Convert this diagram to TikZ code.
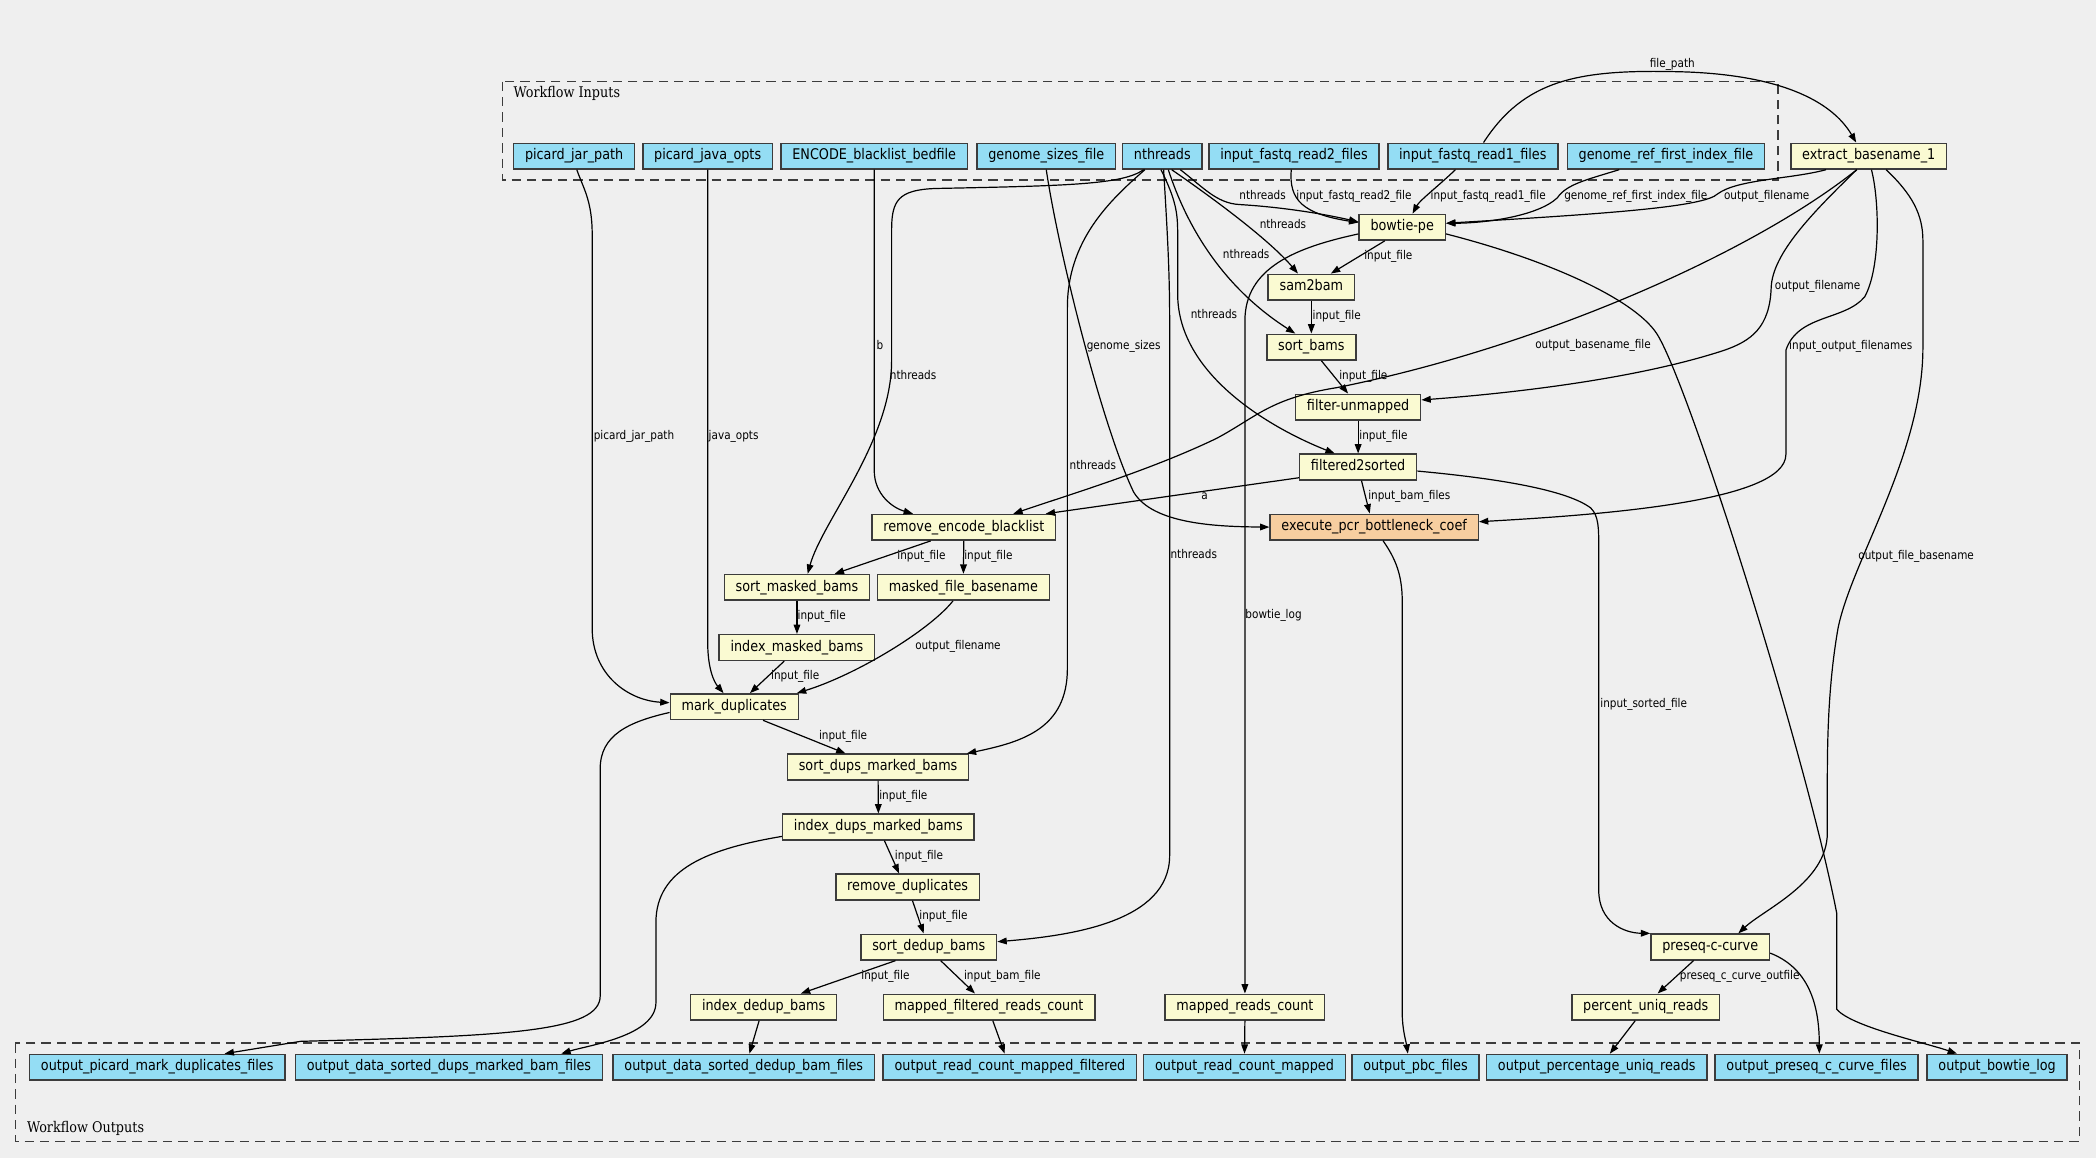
\documentclass[tikz,border=0pt]{standalone}
\usepackage{fontspec}
\setmainfont{DejaVu Sans}[FakeStretch=0.87]
\newfontfamily\clusterfont{DejaVu Serif}[FakeStretch=0.87]
\usetikzlibrary{arrows.meta}
\definecolor{bgcol}{RGB}{239,239,239}
\definecolor{iocol}{RGB}{148,221,244}
\definecolor{stepcol}{RGB}{250,250,210}
\definecolor{subcol}{RGB}{247,206,160}
\definecolor{bordercol}{RGB}{60,60,60}

\begin{document}
\begin{tikzpicture}[x=1pt, y=-1pt] %Workflow
	\tikzstyle{wfbox} = [rectangle, draw=bordercol, line width=1.1pt, minimum height=19.2pt, inner xsep=8.5pt, inner ysep=0pt, text height=8pt, text depth=2.5pt, font=\fontsize{11}{13}\selectfont]
	\tikzstyle{iobox} = [wfbox, fill=iocol]
	\tikzstyle{stepbox} = [wfbox, fill=stepcol]
	\tikzstyle{subbox} = [wfbox, fill=subcol]
	\tikzstyle{conn} = [line width=0.9pt, -{Triangle[length=7pt,width=5pt]}]
	\tikzstyle{elabel} = [anchor=west, inner sep=0pt, text height=7pt, text depth=2pt, font=\fontsize{9}{11}\selectfont]
	\tikzstyle{clusterbox} = [draw=bordercol, line width=1.2pt, dash pattern=on 7pt off 4.5pt]
	\tikzstyle{clustertitle} = [anchor=west, inner sep=0pt, font=\clusterfont\fontsize{11}{13}\selectfont]

	\fill[bgcol] (0,0) rectangle (1568,866);
	\useasboundingbox (0,0) rectangle (1568,866);

	% clusters
	\draw[clusterbox] (375.8,61.1) rectangle (1330.3,134.6);
	\node[clustertitle] (intitle) at (384,70) {Workflow Inputs};
	\draw[clusterbox] (11.5,780.4) rectangle (1555.5,853.9);
	\node[clustertitle] (outtitle) at (20,843.9) {Workflow Outputs};

	% inputs
	\foreach \name/\x/\txt in {pjp/429.5/picard\_jar\_path, pjo/529.4/picard\_java\_opts, encode/654/ENCODE\_blacklist\_bedfile, gsizes/782.7/genome\_sizes\_file, nthreads/869.5/nthreads, read2/968/input\_fastq\_read2\_files, read1/1101.8/input\_fastq\_read1\_files, gref/1246.3/genome\_ref\_first\_index\_file}
	{
		\node[iobox] (\name) at (\x,116.8) {\txt};
	}

	% steps
	\foreach \name/\x/\y/\txt in {extract/1398/116.8/extract\_basename\_1, bowtie/1049/170/bowtie-pe, sam2bam/981/214.8/sam2bam, sortbams/981/259.7/sort\_bams, filterun/1016/304.6/filter-unmapped, f2s/1016/349.4/filtered2sorted, reb/721/394.5/remove\_encode\_blacklist, smb/596.2/439.4/sort\_masked\_bams, mfb/720.7/439.4/masked\_file\_basename, imb/596.2/484.4/index\_masked\_bams, markdup/549.3/528.7/mark\_duplicates, sdmb/656.9/573.8/sort\_dups\_marked\_bams, idmb/657.1/618.7/index\_dups\_marked\_bams, rmdup/679/663.6/remove\_duplicates, sdb/694.8/708.5/sort\_dedup\_bams, idb/571.3/753.4/index\_dedup\_bams, mfrc/739.9/753.4/mapped\_filtered\_reads\_count, mrc/931.3/753.4/mapped\_reads\_count, preseq/1279.4/708.4/preseq-c-curve, pur/1231.2/753.4/percent\_uniq\_reads}
	{
		\node[stepbox] (\name) at (\x,\y) {\txt};
	}
	\node[subbox] (pcr) at (1028,394.3) {execute\_pcr\_bottleneck\_coef};

	% outputs
	\foreach \name/\x/\txt in {opmd/117.6/output\_picard\_mark\_duplicates\_files, odsdmb/335.9/output\_data\_sorted\_dups\_marked\_bam\_files, odsdb/556.4/output\_data\_sorted\_dedup\_bam\_files, orcmf/755.5/output\_read\_count\_mapped\_filtered, orcm/931/output\_read\_count\_mapped, opbc/1058.9/output\_pbc\_files, opur/1194.5/output\_percentage\_uniq\_reads, opcc/1359/output\_preseq\_c\_curve\_files, obl/1494/output\_bowtie\_log}
	{
		\node[iobox] (\name) at (\x,798.4) {\txt};
	}

	% connectors from the inputs
	\draw[conn] ([xshift=2pt]pjp.south) .. controls (436,140) and (443,150) .. (443,175) -- (443,470) .. controls (443,505) and (470,524) .. ([yshift=3pt]markdup.west);
	\draw[conn] (pjo.south) -- (529.4,480) .. controls (529.4,500) and (534,510) .. ([xshift=-8pt]markdup.north);
	\draw[conn] (encode.south) -- (654,352) .. controls (654,370) and (668,380) .. ([xshift=-38pt]reb.north);
	\draw[conn] (gsizes.south) .. controls (792,190) and (825,320) .. (848,368) .. controls (862,392) and (910,394) .. (pcr.west);
	\draw[conn] ([xshift=-14pt]nthreads.south) .. controls (840,138) and (800,139) .. (700,141) .. controls (672,142) and (667,150) .. (667,172) -- (667,270) .. controls (667,330) and (615,390) .. ([xshift=8pt]smb.north);
	\draw[conn] ([xshift=-13pt]nthreads.south) .. controls (830,150) and (798.5,180) .. (798.5,230) -- (798.5,500) .. controls (798.5,545) and (765,555) .. ([xshift=-2pt]sdmb.north east);
	\draw[conn] ([xshift=1pt]nthreads.south) .. controls (873,170) and (875,200) .. (875,240) -- (875,640) .. controls (875,690) and (800,700) .. ([yshift=4pt]sdb.east);
	\draw[conn] ([xshift=13.5pt]nthreads.south) .. controls (900,140) and (910,152) .. (927,153) .. controls (960,155) and (990,160) .. ([yshift=4pt]bowtie.west);
	\draw[conn] ([xshift=7pt]nthreads.south) .. controls (910,150) and (950,180) .. ([xshift=-10pt]sam2bam.north);
	\draw[conn] ([xshift=4.5pt]nthreads.south) .. controls (888,170) and (915,215) .. ([xshift=-12pt]sortbams.north);
	\draw[conn] ([xshift=-1pt]nthreads.south) .. controls (880,150) and (881,160) .. (881,175) -- (881,220) .. controls (881,280) and (950,320) .. ([xshift=-17.5pt]f2s.north);
	\draw[conn] ([xshift=-2pt]read2.south) .. controls (964,150) and (975,160) .. ([yshift=3.5pt]bowtie.west);
	\draw[conn] ([xshift=-13pt]read1.south) .. controls (1075,140) and (1062,150) .. ([xshift=7.7pt]bowtie.north);
	\draw[conn] ([xshift=8pt]read1.north) .. controls (1140,60) and (1180,52) .. (1253,53.6) .. controls (1330,55) and (1370,75) .. ([xshift=-9.4pt]extract.north);
	\draw[conn] ([xshift=-35pt]gref.south) .. controls (1185,135) and (1172,138) .. (1165,148) .. controls (1150,162) and (1110,167) .. ([yshift=3pt]bowtie.east);

	% connectors from extract_basename_1
	\draw[conn] ([xshift=-32pt]extract.south) .. controls (1340,134) and (1300,134) .. (1285,145) .. controls (1275,155) and (1200,160) .. ([yshift=3pt]bowtie.east);
	\draw[conn] ([xshift=-9pt]extract.south) .. controls (1310,190) and (1150,260) .. (1000,290) .. controls (950,298) and (940,312) .. (910,328) .. controls (860,352) and (800,370) .. ([xshift=37pt]reb.north);
	\draw[conn] ([xshift=-9pt]extract.south) .. controls (1355,160) and (1326,190) .. (1325,215) .. controls (1324,245) and (1310,255) .. (1290,262) .. controls (1220,285) and (1120,295) .. ([yshift=5.4pt]filterun.east);
	\draw[conn] ([xshift=2pt]extract.south) .. controls (1406,150) and (1407,200) .. (1395,222) .. controls (1380,240) and (1345,235) .. (1336,262) -- (1336,340) .. controls (1336,375) and (1200,385) .. ([yshift=4pt]pcr.east);
	\draw[conn] ([xshift=13pt]extract.south) .. controls (1430,145) and (1438.5,160) .. (1438.5,180) -- (1438.5,260) .. controls (1438.5,340) and (1385,420) .. (1375,470) .. controls (1368,510) and (1367,550) .. (1367,583) -- (1367,623) .. controls (1367,660) and (1320,680) .. ([xshift=21pt]preseq.north);

	% connectors between steps
	\draw[conn] ([xshift=-13pt]bowtie.south) -- ([xshift=14.6pt]sam2bam.north);
	\draw[conn] ([yshift=-5pt]bowtie.west) .. controls (970,185) and (931.3,200) .. (931.3,240) -- (mrc.north);
	\draw[conn] ([yshift=-5pt]bowtie.east) .. controls (1160,195) and (1222,224) .. (1239,249) .. controls (1262,283) and (1350,560) .. (1374,683) -- (1374,755) .. controls (1385,768) and (1440,780) .. ([xshift=-30pt]obl.north);
	\draw[conn] (sam2bam.south) -- (sortbams.north);
	\draw[conn] ([xshift=7.5pt]sortbams.south) -- ([xshift=-7.5pt]filterun.north);
	\draw[conn] (filterun.south) -- (f2s.north);
	\draw[conn] ([xshift=2.5pt]f2s.south) -- ([xshift=-3.3pt]pcr.north);
	\draw[conn] ([yshift=-8pt]f2s.west) -- ([xshift=-8pt]reb.north east);
	\draw[conn] ([yshift=-3pt]f2s.east) .. controls (1110,357) and (1170,365) .. (1190,380) .. controls (1196,386) and (1196,395) .. (1196,410) -- (1196,666) .. controls (1196,690) and (1215,698) .. (preseq.north west);
	\draw[conn] ([xshift=6.6pt]pcr.south) .. controls (1044,418) and (1049,430) .. (1049,450) -- (1049,758) .. controls (1049,770) and (1052,780) .. ([xshift=-5.7pt]opbc.north);
	\draw[conn] ([xshift=-24.8pt]reb.south) -- ([xshift=28.2pt]smb.north);
	\draw[conn] (reb.south) -- (mfb.north);
	\draw[conn] (smb.south) -- (imb.north);
	\draw[conn] ([xshift=-9.5pt]imb.south) -- ([xshift=11.7pt]markdup.north);
	\draw[conn] ([xshift=-7.8pt]mfb.south) .. controls (695,472) and (640,505) .. ([xshift=46.8pt]markdup.north);
	\draw[conn] ([xshift=21.5pt]markdup.south) -- ([xshift=-24.4pt]sdmb.north);
	\draw[conn] ([yshift=-4.3pt]markdup.west) .. controls (470,540) and (449,550) .. (449,575) -- (449,745) .. controls (449,772) and (380,775) .. (225,779) -- ([xshift=50.4pt]opmd.north);
	\draw[conn] (sdmb.south) -- (idmb.north);
	\draw[conn] ([xshift=4.5pt]idmb.south) -- ([xshift=-6.4pt]rmdup.north);
	\draw[conn] ([yshift=-7pt]idmb.west) .. controls (530,635) and (490.7,650) .. (490.7,690) -- (490.7,750) .. controls (490.7,775) and (440,782) .. ([xshift=84pt]odsdmb.north);
	\draw[conn] ([xshift=3.6pt]rmdup.south) -- ([xshift=-3.8pt]sdb.north);
	\draw[conn] ([xshift=-24.9pt]sdb.south) -- ([xshift=27.8pt]idb.north);
	\draw[conn] ([xshift=8.9pt]sdb.south) -- ([xshift=-10.5pt]mfrc.north);
	\draw[conn] ([xshift=-3.4pt]idb.south) -- ([xshift=4.2pt]odsdb.north);
	\draw[conn] ([xshift=2.8pt]mfrc.south) -- ([xshift=-3.9pt]orcmf.north);
	\draw[conn] (mrc.south) -- (orcm.north);
	\draw[conn] ([xshift=-12.4pt]preseq.south) -- ([xshift=8.8pt]pur.north);
	\draw[conn] ([yshift=-4.6pt]preseq.east) .. controls (1355,725) and (1361,755) .. ([xshift=2pt]opcc.north);
	\draw[conn] ([xshift=-7.9pt]pur.south) -- ([xshift=9.8pt]opur.north);

	% connector labels
	\foreach \x/\y/\txt [count=\i] in {444/326/picard\_jar\_path, 530/326/java\_opts, 655.5/258.8/b, 665.5/281.2/nthreads, 812.8/258.8/genome\_sizes, 800/348.5/nthreads, 875.5/415/nthreads, 927/146.6/nthreads, 969.6/146.6/input\_fastq\_read2\_file, 1070/146.6/input\_fastq\_read1\_file, 1170/146.6/genome\_ref\_first\_index\_file, 1289.5/146.6/output\_filename, 942.2/168.8/nthreads, 914.7/191.2/nthreads, 890.6/236.1/nthreads, 1234/47.9/file\_path, 1020.4/191.5/input\_file, 931.5/460/bowtie\_log, 981.8/236.3/input\_file, 1001.7/281.2/input\_file, 1016.7/326.1/input\_file, 1023.4/371/input\_bam\_files, 898.5/371/a, 1148.3/258.5/output\_basename\_file, 1327.6/213.9/output\_filename, 1338.3/258.8/input\_output\_filenames, 1390/415.9/output\_file\_basename, 1197/527/input\_sorted\_file, 671.1/415.9/input\_file, 721.2/415.9/input\_file, 596.5/460.7/input\_file, 576.7/505.6/input\_file, 684.5/483.2/output\_filename, 612.5/550.5/input\_file, 657.6/595.4/input\_file, 669.3/640.2/input\_file, 687.6/685.1/input\_file, 644.2/730/input\_file, 721/730/input\_bam\_file, 1256.5/730/preseq\_c\_curve\_outfile}
	{
		\node[elabel] (lab\i) at (\x,\y) {\txt};
	}
\end{tikzpicture}
\end{document}
